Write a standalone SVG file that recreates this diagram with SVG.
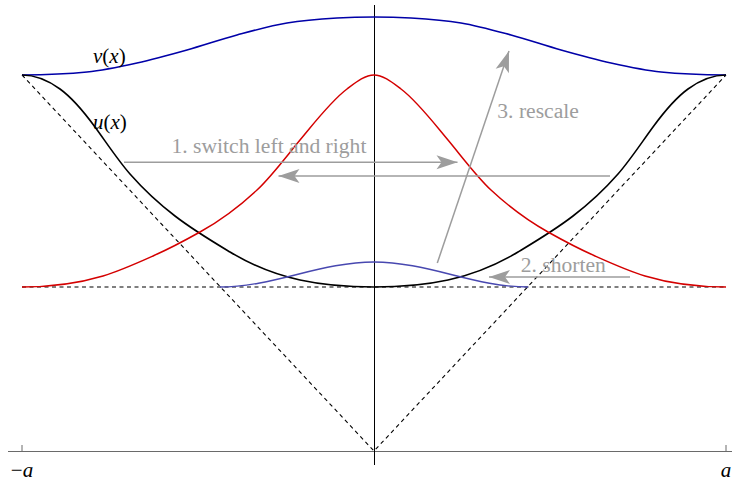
<svg xmlns="http://www.w3.org/2000/svg" width="732" height="483" viewBox="0 0 732 483">
<defs>
<style>
.ax{stroke:#000;stroke-width:1;fill:none}
.hx{stroke:#6a6a6a;stroke-width:1;fill:none}
.dash{stroke:#000;stroke-width:1.1;fill:none;stroke-dasharray:4 3.5}
.u{stroke:#000;stroke-width:1.6;fill:none}
.v{stroke:#0000a8;stroke-width:1.6;fill:none}
.r{stroke:#d40000;stroke-width:1.5;fill:none}
.sb{stroke:#4848b0;stroke-width:1.4;fill:none}
.ar{stroke:#9d9d9d;stroke-width:1.5;fill:none;marker-end:url(#ah)}
.lab{font-family:"Liberation Serif",serif;font-size:21px;fill:#000}
.gl{font-family:"Liberation Serif",serif;font-size:21.6px;fill:#9d9d9d}
.it{font-style:italic}
</style>
<marker id="ah" markerUnits="userSpaceOnUse" markerWidth="24" markerHeight="16" viewBox="-22 -8 24 16" refX="0" refY="0" orient="auto">
<path d="M0,0 L-21,-7 L-16,0 L-21,7 Z" fill="#9d9d9d"/>
</marker>
</defs>
<g id="axes">
<line class="hx" x1="8" y1="451.5" x2="732" y2="451.5"/>
<line class="hx" x1="22" y1="445" x2="22" y2="451"/>
<line class="hx" x1="726" y1="445" x2="726" y2="451"/>
<line class="ax" x1="374.5" y1="5" x2="374.5" y2="465"/>
<text class="lab" x="22" y="477" text-anchor="middle">−<tspan class="it">a</tspan></text>
<text class="lab it" x="726" y="477" text-anchor="middle">a</text>
</g>
<g id="guides">
<polyline class="dash" points="22,75 374,451 726,75"/>
<line class="dash" x1="22" y1="287" x2="726" y2="287"/>
</g>
<g id="curves">
<path id="v" class="v" d="M22,75 C43.7,74.8 65.3,74.2 87,72 C103.7,70.3 120.3,66.7 137,63 C153.7,59.3 170.3,54.7 187,50 C203.7,45.3 220.3,39.5 237,35 C253.7,30.5 270.3,25.8 287,23 C303.7,20.2 320.3,19 337,18 C349.3,17.3 361.7,17 374,17 C386.3,17 398.7,17.3 411,18 C427.7,19 444.3,20.2 461,23 C477.7,25.8 494.3,30.5 511,35 C527.7,39.5 544.3,45.3 561,50 C577.7,54.7 594.3,59.3 611,63 C627.7,66.7 644.3,70.3 661,72 C682.7,74.2 704.3,74.8 726,75"/>
<path id="u" class="u" d="M22,75 C34.7,75 47.3,79.75 60,89 C71.7,97.5 83.3,111 95,127 C106.7,143 118.3,160.7 130,174 C145,191.1 160,204.5 175,216 C193.3,230.1 211.7,241 230,252 C253.3,266 276.7,274.9 300,280 C324.7,285.4 349.3,287 374,287 C398.7,287 423.3,285.4 448,280 C471.3,274.9 494.7,266 518,252 C536.3,241 554.7,230.1 573,216 C588,204.5 603,191.1 618,174 C629.7,160.7 641.3,143 653,127 C664.7,111 676.3,97.5 688,89 C700.7,79.75 713.3,75 726,75"/>
<path id="red" class="r" d="M22,287 C49,287 76,284.1 103,276 C119.7,271 136.3,263.5 153,256 C168.7,249 184.3,240.8 200,232 C219,221.4 238,207.7 257,190 C271.3,176.7 285.7,157.2 300,140 C315.7,121.2 331.3,100.75 347,89 C356,82.25 365,75 374,75 C383,75 392,82.25 401,89 C416.7,100.75 432.3,121.2 448,140 C462.3,157.2 476.7,176.7 491,190 C510,207.7 529,221.4 548,232 C563.7,240.8 579.3,249 595,256 C611.7,263.5 628.3,271 645,276 C672,284.1 699,287 726,287"/>
<path id="small" class="sb" d="M220,287 C245.7,287 271.3,281.05 297,274.5 C322.7,267.95 348.3,262 374,262 C399.7,262 425.3,267.95 451,274.5 C476.7,281.05 502.3,287 528,287"/>
</g>
<g id="connectors">
<line class="ar" x1="124" y1="162.3" x2="457.5" y2="162.3"/>
<line class="ar" x1="610" y1="176" x2="278.5" y2="176"/>
<line class="ar" x1="437.3" y1="263" x2="509" y2="51"/>
<line class="ar" x1="630" y1="277" x2="489" y2="277"/>
</g>
<g id="labels">
<text class="lab" x="93" y="62.5"><tspan class="it">v</tspan>(<tspan class="it">x</tspan>)</text>
<text class="lab" x="93" y="129"><tspan class="it">u</tspan>(<tspan class="it">x</tspan>)</text>
<text class="gl" x="171.5" y="153.3">1. switch left and right</text>
<text class="gl" x="497.3" y="118.3">3. rescale</text>
<text class="gl" x="520.7" y="271.7">2. shorten</text>
</g>
</svg>
